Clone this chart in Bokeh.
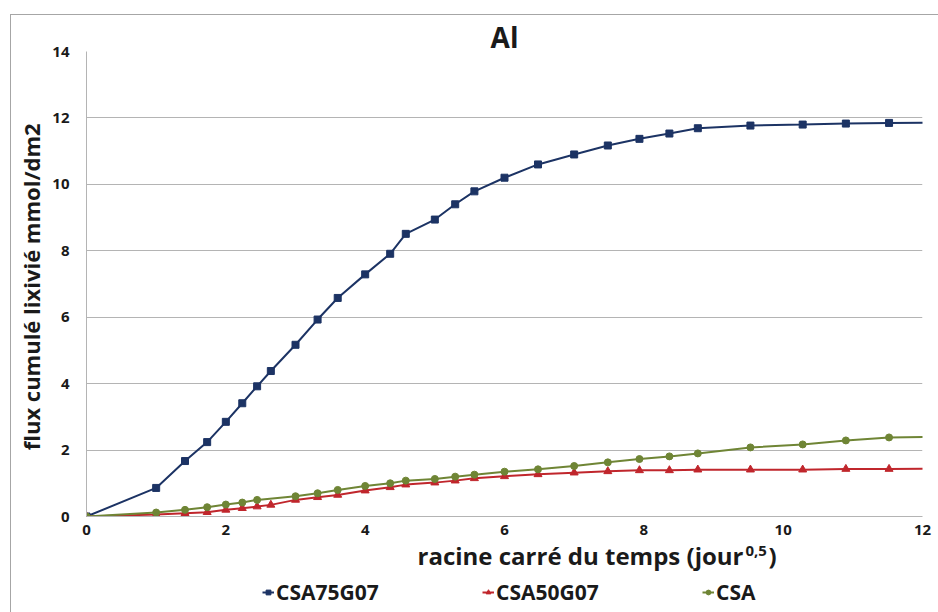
from bokeh.plotting import figure
from bokeh.layouts import column
from bokeh.models import Legend, LegendItem, FixedTicker, Range1d, Label
from bokeh.embed import file_html
from bokeh.resources import INLINE

# ---- data ----
title_text = "Al"
x_label_main = "racine carré du temps (jour"
x_label_sup = "0,5"
x_label_end = ")"
y_label = "flux cumulé  lixivié mmol/dm2"
series_names = ["CSA75G07", "CSA50G07", "CSA"]

x_csa75g07 = [0, 1.0, 1.414, 1.732, 2.0, 2.236, 2.449, 2.646, 3.0, 3.317, 3.606, 4.0, 4.359, 4.583,
              5.0, 5.292, 5.568, 6.0, 6.481, 7.0, 7.483, 7.937, 8.367, 8.775, 9.53, 10.28, 10.9, 11.52, 12.2]
y_csa75g07 = [0, 0.86, 1.67, 2.24, 2.85, 3.41, 3.92, 4.38, 5.17, 5.93, 6.58, 7.29, 7.91, 8.51,
              8.94, 9.40, 9.79, 10.2, 10.6, 10.9, 11.17, 11.37, 11.53, 11.69, 11.77, 11.8, 11.83, 11.85, 11.86]

x_csa50g07 = [0, 1.0, 1.414, 1.732, 2.0, 2.236, 2.449, 2.646, 3.0, 3.317, 3.606, 4.0, 4.359, 4.583,
              5.0, 5.292, 5.568, 6.0, 6.481, 7.0, 7.483, 7.937, 8.367, 8.775, 9.53, 10.28, 10.9, 11.52, 12.2]
y_csa50g07 = [0, 0.06, 0.10, 0.13, 0.20, 0.25, 0.30, 0.35, 0.50, 0.58, 0.65, 0.78, 0.88, 0.96,
              1.02, 1.08, 1.15, 1.21, 1.27, 1.32, 1.36, 1.39, 1.39, 1.41, 1.41, 1.41, 1.43, 1.43, 1.44]

x_csa = [0, 1.0, 1.414, 1.732, 2.0, 2.236, 2.449, 3.0, 3.317, 3.606, 4.0, 4.359, 4.583,
         5.0, 5.292, 5.568, 6.0, 6.481, 7.0, 7.483, 7.937, 8.367, 8.775, 9.53, 10.28, 10.9, 11.52, 12.2]
y_csa = [0, 0.12, 0.20, 0.28, 0.36, 0.42, 0.50, 0.61, 0.70, 0.80, 0.92, 1.00, 1.08,
         1.13, 1.20, 1.26, 1.35, 1.42, 1.52, 1.63, 1.73, 1.81, 1.90, 2.08, 2.17, 2.29, 2.38, 2.40]

x_ticks = [0, 2, 4, 6, 8, 10, 12]
y_ticks = [0, 2, 4, 6, 8, 10, 12, 14]

# ---- styles ----
FONT = "Open Sans"
BLUE = "#1c3364"
RED = "#c0262c"
GREEN = "#6f8535"
GRID = "#b4b4b4"
TXT = "#1a1a1a"

W = 927
H_MAIN = 530
OVERLAP = 12
H_FOOT = 67 + OVERLAP

# ---- main chart ----
p = figure(width=W, height=H_MAIN, output_backend="svg", toolbar_location=None,
           x_range=Range1d(0, 12), y_range=Range1d(0, 14),
           min_border_left=75, min_border_right=16, min_border_top=36, min_border_bottom=29)
p.outline_line_color = None
p.background_fill_color = "white"
p.border_fill_color = "white"

p.title.text = title_text
p.title.align = "center"
p.title.text_font = FONT
p.title.text_font_style = "bold"
p.title.text_font_size = "28px"
p.title.text_color = TXT
p.title.standoff = -8

p.xgrid.grid_line_color = None
p.ygrid.grid_line_color = GRID
p.ygrid.grid_line_width = 1
p.xaxis.ticker = FixedTicker(ticks=x_ticks)
p.yaxis.ticker = FixedTicker(ticks=y_ticks)
for ax in (p.xaxis, p.yaxis):
    ax.axis_line_color = GRID
    ax.major_tick_line_color = None
    ax.minor_tick_line_color = None
    ax.major_tick_out = 0
    ax.major_tick_in = 0
    ax.major_label_text_font = FONT
    ax.major_label_text_font_style = "bold"
    ax.major_label_text_font_size = "15px"
    ax.major_label_text_color = TXT
    ax.axis_label_text_font = FONT
    ax.axis_label_text_font_style = "bold"
    ax.axis_label_text_font_size = "22px"
    ax.axis_label_text_color = TXT
p.yaxis.major_label_standoff = 17
p.xaxis.major_label_standoff = 8
p.yaxis.axis_label = y_label
p.yaxis.axis_label_standoff = 3

p.line(x_csa75g07, y_csa75g07, line_color=BLUE, line_width=2)
p.scatter(x_csa75g07, y_csa75g07, marker="square", size=7, fill_color=BLUE, line_color=BLUE)
p.line(x_csa50g07, y_csa50g07, line_color=RED, line_width=2)
p.scatter(x_csa50g07, y_csa50g07, marker="triangle", size=8, fill_color=RED, line_color=RED)
p.line(x_csa, y_csa, line_color=GREEN, line_width=2)
p.scatter(x_csa, y_csa, marker="circle", size=7, fill_color=GREEN, line_color=GREEN)

# ---- footer: x-axis title (with superscript) and legend ----
# transparent, slightly overlapping the chart's bottom margin; its y range lies far
# above the data, so the series below only feed the legend glyphs
f = figure(width=W, height=H_FOOT, output_backend="svg", toolbar_location=None,
           x_range=Range1d(0, 1), y_range=Range1d(100, 101),
           x_axis_location=None, y_axis_location=None, min_border=0)
f.outline_line_color = None
f.grid.visible = False
f.background_fill_alpha = 0
f.border_fill_alpha = 0
f.styles = {"margin-top": "-%dpx" % OVERLAP}

def lab(x, y, text, size, align="left"):
    f.add_layout(Label(x=x, y=y, x_units="canvas", y_units="canvas", text=text,
                       text_font=FONT, text_font_style="bold", text_font_size=size,
                       text_color=TXT, text_align=align, text_baseline="alphabetic"))

lab(732, 10 + OVERLAP, x_label_main, "24px", align="right")
lab(734, 5 + OVERLAP, x_label_sup, "15px")
lab(757, 10 + OVERLAP, x_label_end, "24px")

l1 = f.line(x_csa75g07, y_csa75g07, line_color=BLUE, line_width=2)
m1 = f.scatter(x_csa75g07, y_csa75g07, marker="square", size=7, fill_color=BLUE, line_color=BLUE)
l2 = f.line(x_csa50g07, y_csa50g07, line_color=RED, line_width=2)
m2 = f.scatter(x_csa50g07, y_csa50g07, marker="triangle", size=8, fill_color=RED, line_color=RED)
l3 = f.line(x_csa, y_csa, line_color=GREEN, line_width=2)
m3 = f.scatter(x_csa, y_csa, marker="circle", size=7, fill_color=GREEN, line_color=GREEN)

legend = Legend(items=[LegendItem(label=series_names[0], renderers=[l1, m1]),
                       LegendItem(label=series_names[1], renderers=[l2, m2]),
                       LegendItem(label=series_names[2], renderers=[l3, m3])],
                orientation="horizontal", location=(176, 6),
                glyph_width=12, glyph_height=14, label_standoff=2, label_width=206, spacing=0,
                padding=0, margin=0, border_line_color=None, background_fill_alpha=0,
                label_text_font=FONT, label_text_font_style="bold",
                label_text_font_size="21px", label_text_color=TXT)
f.add_layout(legend, "center")

layout = column(p, f, spacing=0)
layout.styles = {"border-left": "1px solid #a6a6a6", "border-top": "1px solid #a6a6a6",
                 "margin-left": "10px", "margin-top": "14px"}

open("out.html", "w").write(file_html(layout, INLINE))
